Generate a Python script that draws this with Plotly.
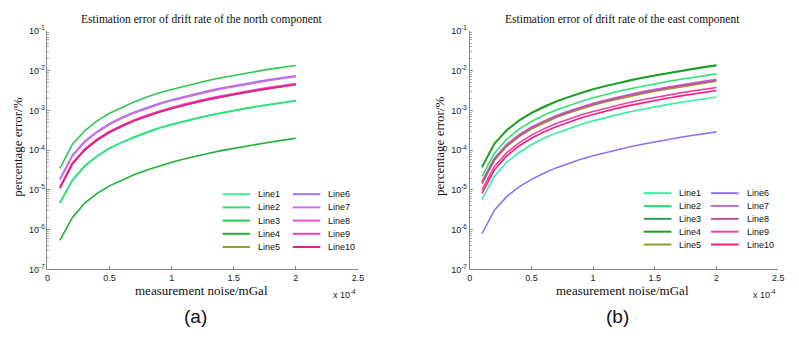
import plotly.graph_objects as go

# measurement noise (x 1e-4 mGal)
noise = [0.1, 0.2, 0.3, 0.4, 0.5, 0.6, 0.7, 0.8, 0.9, 1.0,
         1.1, 1.2, 1.3, 1.4, 1.5, 1.6, 1.7, 1.8, 1.9, 2.0]

names = ["Line1", "Line2", "Line3", "Line4", "Line5",
         "Line6", "Line7", "Line8", "Line9", "Line10"]

# (a) north component, percentage error
north_1 = [4.6e-6, 1.7e-5, 3.9e-5, 7.0e-5, 1.1e-4, 1.6e-4, 2.1e-4, 2.8e-4, 3.6e-4, 4.4e-4,
           5.3e-4, 6.3e-4, 7.4e-4, 8.6e-4, 9.9e-4, 1.12e-3, 1.27e-3, 1.42e-3, 1.58e-3, 1.75e-3]
north_2 = [4.8e-6, 1.8e-5, 4.1e-5, 7.2e-5, 1.15e-4, 1.6e-4, 2.2e-4, 2.9e-4, 3.7e-4, 4.5e-4,
           5.5e-4, 6.5e-4, 7.6e-4, 8.8e-4, 1.0e-3, 1.15e-3, 1.3e-3, 1.45e-3, 1.62e-3, 1.78e-3]
north_3 = [3.5e-5, 1.4e-4, 3.1e-4, 5.5e-4, 8.6e-4, 1.22e-3, 1.66e-3, 2.2e-3, 2.8e-3, 3.4e-3,
           4.1e-3, 4.9e-3, 5.8e-3, 6.7e-3, 7.7e-3, 8.8e-3, 9.9e-3, 1.12e-2, 1.23e-2, 1.36e-2]
north_4 = [5.4e-7, 2.0e-6, 4.7e-6, 8.2e-6, 1.27e-5, 1.8e-5, 2.45e-5, 3.2e-5, 4.05e-5, 5.0e-5,
           6.0e-5, 7.2e-5, 8.4e-5, 9.8e-5, 1.12e-4, 1.28e-4, 1.44e-4, 1.62e-4, 1.8e-4, 2.0e-4]
north_5 = [1.1e-5, 4.5e-5, 1.0e-4, 1.8e-4, 2.8e-4, 4.0e-4, 5.5e-4, 7.2e-4, 9.1e-4, 1.12e-3,
           1.36e-3, 1.61e-3, 1.89e-3, 2.2e-3, 2.52e-3, 2.87e-3, 3.24e-3, 3.63e-3, 4.04e-3, 4.48e-3]
north_6 = [1.9e-5, 7.5e-5, 1.7e-4, 3.0e-4, 4.7e-4, 6.8e-4, 9.2e-4, 1.2e-3, 1.52e-3, 1.88e-3,
           2.27e-3, 2.7e-3, 3.18e-3, 3.68e-3, 4.23e-3, 4.81e-3, 5.43e-3, 6.09e-3, 6.79e-3, 7.52e-3]
north_7 = [1.8e-5, 7.1e-5, 1.6e-4, 2.85e-4, 4.45e-4, 6.4e-4, 8.7e-4, 1.14e-3, 1.44e-3, 1.78e-3,
           2.15e-3, 2.56e-3, 3.0e-3, 3.49e-3, 4.0e-3, 4.56e-3, 5.15e-3, 5.77e-3, 6.43e-3, 7.12e-3]
north_8 = [1.2e-5, 4.8e-5, 1.08e-4, 1.92e-4, 3.0e-4, 4.3e-4, 5.9e-4, 7.7e-4, 9.7e-4, 1.2e-3,
           1.45e-3, 1.73e-3, 2.03e-3, 2.35e-3, 2.7e-3, 3.07e-3, 3.47e-3, 3.89e-3, 4.33e-3, 4.8e-3]
north_9 = [1.16e-5, 4.6e-5, 1.04e-4, 1.86e-4, 2.9e-4, 4.2e-4, 5.7e-4, 7.4e-4, 9.4e-4, 1.16e-3,
           1.4e-3, 1.67e-3, 1.96e-3, 2.27e-3, 2.61e-3, 2.97e-3, 3.35e-3, 3.76e-3, 4.19e-3, 4.64e-3]
north_10 = [1.12e-5, 4.5e-5, 1.02e-4, 1.81e-4, 2.83e-4, 4.07e-4, 5.5e-4, 7.2e-4, 9.2e-4, 1.13e-3,
            1.37e-3, 1.63e-3, 1.91e-3, 2.21e-3, 2.54e-3, 2.89e-3, 3.27e-3, 3.66e-3, 4.08e-3, 4.52e-3]

# (b) east component, percentage error
east_1 = [5.8e-6, 2.2e-5, 5.0e-5, 8.8e-5, 1.38e-4, 2.0e-4, 2.7e-4, 3.5e-4, 4.45e-4, 5.5e-4,
          6.65e-4, 7.9e-4, 9.3e-4, 1.08e-3, 1.24e-3, 1.41e-3, 1.59e-3, 1.78e-3, 1.99e-3, 2.2e-3]
east_2 = [2.2e-5, 8.4e-5, 1.9e-4, 3.4e-4, 5.3e-4, 7.6e-4, 1.03e-3, 1.34e-3, 1.7e-3, 2.1e-3,
          2.54e-3, 3.02e-3, 3.55e-3, 4.12e-3, 4.73e-3, 5.38e-3, 6.07e-3, 6.8e-3, 7.58e-3, 8.4e-3]
east_3 = [3.7e-5, 1.43e-4, 3.15e-4, 5.5e-4, 8.55e-4, 1.22e-3, 1.66e-3, 2.16e-3, 2.74e-3, 3.38e-3,
          4.07e-3, 4.85e-3, 5.68e-3, 6.6e-3, 7.57e-3, 8.61e-3, 9.7e-3, 1.1e-2, 1.22e-2, 1.35e-2]
east_4 = [3.8e-5, 1.48e-4, 3.25e-4, 5.7e-4, 8.8e-4, 1.26e-3, 1.71e-3, 2.23e-3, 2.82e-3, 3.48e-3,
          4.2e-3, 5.0e-3, 5.86e-3, 6.8e-3, 7.8e-3, 8.88e-3, 1.0e-2, 1.13e-2, 1.26e-2, 1.39e-2]
east_5 = [1.4e-5, 5.5e-5, 1.24e-4, 2.2e-4, 3.43e-4, 4.9e-4, 6.7e-4, 8.7e-4, 1.1e-3, 1.36e-3,
          1.65e-3, 1.96e-3, 2.3e-3, 2.67e-3, 3.06e-3, 3.48e-3, 3.93e-3, 4.41e-3, 4.91e-3, 5.44e-3]
east_6 = [7.9e-7, 3.1e-6, 6.8e-6, 1.2e-5, 1.85e-5, 2.65e-5, 3.6e-5, 4.7e-5, 5.9e-5, 7.3e-5,
          8.8e-5, 1.05e-4, 1.23e-4, 1.42e-4, 1.63e-4, 1.86e-4, 2.1e-4, 2.35e-4, 2.62e-4, 2.9e-4]
east_7 = [1.65e-5, 6.3e-5, 1.4e-4, 2.47e-4, 3.85e-4, 5.5e-4, 7.5e-4, 9.8e-4, 1.24e-3, 1.53e-3,
          1.85e-3, 2.2e-3, 2.58e-3, 3.0e-3, 3.44e-3, 3.91e-3, 4.41e-3, 4.95e-3, 5.51e-3, 6.1e-3]
east_8 = [1.55e-5, 6.0e-5, 1.33e-4, 2.35e-4, 3.65e-4, 5.25e-4, 7.1e-4, 9.3e-4, 1.18e-3, 1.45e-3,
          1.76e-3, 2.09e-3, 2.45e-3, 2.84e-3, 3.26e-3, 3.71e-3, 4.19e-3, 4.7e-3, 5.23e-3, 5.8e-3]
east_9 = [1.0e-5, 3.9e-5, 8.7e-5, 1.54e-4, 2.4e-4, 3.45e-4, 4.7e-4, 6.1e-4, 7.7e-4, 9.5e-4,
          1.15e-3, 1.37e-3, 1.61e-3, 1.86e-3, 2.14e-3, 2.43e-3, 2.75e-3, 3.08e-3, 3.43e-3, 3.8e-3]
east_10 = [8.2e-6, 3.2e-5, 7.2e-5, 1.28e-4, 2.0e-4, 2.88e-4, 3.92e-4, 5.1e-4, 6.5e-4, 8.0e-4,
           9.7e-4, 1.15e-3, 1.35e-3, 1.57e-3, 1.8e-3, 2.05e-3, 2.31e-3, 2.59e-3, 2.89e-3, 3.2e-3]

north_series = [north_1, north_2, north_3, north_4, north_5,
                north_6, north_7, north_8, north_9, north_10]
east_series = [east_1, east_2, east_3, east_4, east_5,
               east_6, east_7, east_8, east_9, east_10]

x_ticks = [0, 0.5, 1, 1.5, 2, 2.5]
x_tick_labels = ["0", "0.5", "1", "1.5", "2", "2.5"]
y_ticks = [1e-7, 1e-6, 1e-5, 1e-4, 1e-3, 1e-2, 1e-1]
y_tick_labels = ["10<sup>-7</sup>", "10<sup>-6</sup>", "10<sup>-5</sup>", "10<sup>-4</sup>",
                 "10<sup>-3</sup>", "10<sup>-2</sup>", "10<sup>-1</sup>"]

title_a = "Estimation error of drift rate of the north component"
title_b = "Estimation error of drift rate of the east component"
x_title = "measurement noise/mGal"
y_title = "percentage error/%"

colors_a = ["#3ef09a", "#33e078", "#2cc852", "#1fb035", "#a0a020",
            "#a474ec", "#d070e0", "#f050d0", "#f040b0", "#e0208a"]
colors_b = ["#35f0a0", "#33e078", "#2ea050", "#1ea020", "#909a30",
            "#9070f0", "#c070e0", "#c050a0", "#f040a0", "#f02080"]

W, H = 799, 340
fig = go.Figure()

for i, (nm, ys) in enumerate(zip(names, north_series)):
    fig.add_trace(go.Scatter(x=noise, y=ys, mode="lines", name=nm,
                             line=dict(color=colors_a[i], width=1.6),
                             xaxis="x", yaxis="y", showlegend=False))
for i, (nm, ys) in enumerate(zip(names, east_series)):
    fig.add_trace(go.Scatter(x=noise, y=ys, mode="lines", name=nm,
                             line=dict(color=colors_b[i], width=1.6),
                             xaxis="x2", yaxis="y2", showlegend=False))

def px_x(p):
    return p / W

def px_y(p):
    return 1 - p / H

axis_common = dict(showline=True, linecolor="#8a8a8a", linewidth=1, showgrid=False,
                   zeroline=False, ticks="inside", ticklen=3, tickcolor="#8a8a8a",
                   tickfont=dict(family="Liberation Sans", size=9, color="#222"))
xa = dict(axis_common, range=[0, 2.5], tickvals=x_ticks, ticktext=x_tick_labels)
ya = dict(axis_common, type="log", range=[-7, -1], tickvals=y_ticks, ticktext=y_tick_labels,
          minor=dict(ticks="inside", ticklen=2, tickcolor="#aaaaaa", dtick="D1", showgrid=False))

fig.update_layout(
    width=W, height=H, margin=dict(l=0, r=0, t=0, b=0),
    paper_bgcolor="white", plot_bgcolor="white",
    xaxis=dict(xa, domain=[px_x(45), px_x(359)], anchor="y"),
    yaxis=dict(ya, domain=[px_y(272), px_y(25)], anchor="x"),
    xaxis2=dict(xa, domain=[px_x(472), px_x(784)], anchor="y2"),
    yaxis2=dict(ya, domain=[px_y(272), px_y(25)], anchor="x2"),
)

serif = "Liberation Serif"
ann = []
shapes = []
panels = [
    dict(cx=201, title=title_a, xt_cx=201, yt_x=15, exp_x=359, label="(a)", lab_x=195,
         colors=colors_a, leg_x=[222, 293], leg_y=[194, 207.7, 221.4, 235.1, 248.8]),
    dict(cx=627, title=title_b, xt_cx=627, yt_x=442, exp_x=784, label="(b)", lab_x=622,
         colors=colors_b, leg_x=[648, 716], leg_y=[193, 206.3, 219.6, 232.9, 246.2]),
]
for p in panels:
    ann.append(dict(text=p["title"], x=px_x(p["cx"]), y=px_y(13), xref="paper", yref="paper",
                    showarrow=False, xanchor="center", yanchor="middle",
                    font=dict(family=serif, size=11.5, color="#111")))
    ann.append(dict(text=x_title, x=px_x(p["xt_cx"]), y=px_y(294), xref="paper", yref="paper",
                    showarrow=False, xanchor="center", yanchor="middle",
                    font=dict(family=serif, size=13, color="#111")))
    ann.append(dict(text=y_title, x=px_x(p["yt_x"]), y=px_y(145), xref="paper", yref="paper",
                    showarrow=False, xanchor="center", yanchor="middle", textangle=-90,
                    font=dict(family=serif, size=13, color="#111")))
    ann.append(dict(text="x 10<sup>-4</sup>", x=px_x(p["exp_x"]), y=px_y(297), xref="paper",
                    yref="paper", showarrow=False, xanchor="right", yanchor="middle",
                    font=dict(family="Liberation Sans", size=9, color="#222")))
    ann.append(dict(text=p["label"], x=px_x(p["lab_x"]), y=px_y(321), xref="paper", yref="paper",
                    showarrow=False, xanchor="center", yanchor="middle",
                    font=dict(family="Liberation Sans", size=19, color="#111")))
    for i, nm in enumerate(names):
        col = i // 5
        row = i % 5
        x0 = p["leg_x"][col]
        yy = p["leg_y"][row]
        shapes.append(dict(type="line", xref="paper", yref="paper",
                           x0=px_x(x0), x1=px_x(x0 + 28), y0=px_y(yy), y1=px_y(yy),
                           line=dict(color=p["colors"][i], width=2)))
        ann.append(dict(text=nm, x=px_x(x0 + 34), y=px_y(yy), xref="paper", yref="paper",
                        showarrow=False, xanchor="left", yanchor="middle",
                        font=dict(family="Liberation Sans", size=9, color="#111")))

fig.update_layout(annotations=ann, shapes=shapes)
fig.write_html("out.html")
